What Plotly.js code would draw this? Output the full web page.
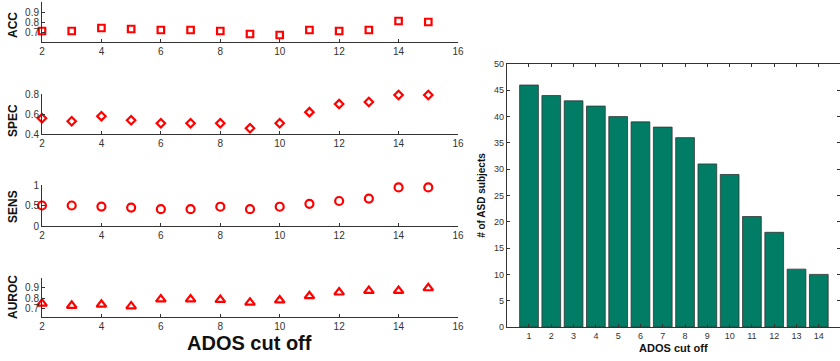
<!DOCTYPE html>
<html>
<head>
<meta charset="utf-8">
<script src="https://cdn.plot.ly/plotly-3.0.1.min.js"></script>
<style>html,body{margin:0;padding:0;background:#fff;}#chart{width:840px;height:361px;}</style>
</head>
<body>
<div id="chart"></div>
<script>
// ADOS cut off values for the four metric panels
const cutoffs = [2, 3, 4, 5, 6, 7, 8, 9, 10, 11, 12, 13, 14, 15];
const acc   = [0.71, 0.71, 0.74, 0.73, 0.72, 0.72, 0.71, 0.68, 0.67, 0.72, 0.71, 0.72, 0.81, 0.80];
const spec  = [0.56, 0.53, 0.58, 0.54, 0.51, 0.51, 0.51, 0.46, 0.51, 0.62, 0.70, 0.72, 0.79, 0.79];
const sens  = [0.50, 0.50, 0.475, 0.45, 0.41, 0.41, 0.47, 0.41, 0.47, 0.54, 0.61, 0.67, 0.94, 0.94];
const auroc = [0.75, 0.73, 0.74, 0.725, 0.79, 0.79, 0.785, 0.76, 0.78, 0.82, 0.855, 0.87, 0.87, 0.895];

// bar chart
const barCats = [1, 2, 3, 4, 5, 6, 7, 8, 9, 10, 11, 12, 13, 14];
const asdCounts = [46, 44, 43, 42, 40, 39, 38, 36, 31, 29, 21, 18, 11, 10];

const leftTicks = [2, 4, 6, 8, 10, 12, 14, 16];

const red = 'rgb(255,0,0)';
const tickFont = {family: 'Liberation Sans, Arial, sans-serif', size: 10, color: '#333'};
const titleFont = {family: 'Liberation Sans, Arial, sans-serif', size: 12, color: '#111'};

function pix(top, bottom) { return [1 - bottom / 361, 1 - top / 361]; }

function mk(x, y, sym, xa, ya, size) {
  return {
    x: x, y: y, xaxis: xa, yaxis: ya, type: 'scatter', mode: 'markers',
    cliponaxis: false, showlegend: false,
    marker: {symbol: sym, size: size, color: red, line: {color: red, width: 2.2}}
  };
}

const data = [
  mk(cutoffs, acc, 'square-open', 'x', 'y', 6.5),
  mk(cutoffs, spec, 'diamond-open', 'x2', 'y2', 6.5),
  mk(cutoffs, sens, 'circle-open', 'x3', 'y3', 8),
  mk(cutoffs, auroc, 'triangle-up-open', 'x4', 'y4', 8.5),
  {
    x: barCats, y: asdCounts, type: 'bar', xaxis: 'x5', yaxis: 'y5', showlegend: false,
    width: 0.84,
    marker: {color: 'rgb(0,125,100)', line: {color: '#333', width: 0.8}}
  }
];

const xDom = [42 / 840, 458 / 840];
function leftX(anchor) {
  return {
    domain: xDom, range: [2, 16], anchor: anchor,
    tickvals: leftTicks, ticks: 'inside', ticklen: 3, tickcolor: '#333',
    showline: true, linecolor: '#333', linewidth: 1, mirror: false,
    showgrid: false, zeroline: false, tickfont: tickFont
  };
}
function leftY(anchor, dom, range, tv, tt) {
  return {
    domain: dom, range: range, anchor: anchor,
    tickvals: tv, ticktext: tt, ticks: 'inside', ticklen: 3, tickcolor: '#333',
    showline: true, linecolor: '#333', linewidth: 1,
    showgrid: false, zeroline: false, tickfont: tickFont
  };
}

const layout = {
  width: 840, height: 361,
  margin: {l: 0, r: 0, t: 0, b: 0},
  paper_bgcolor: '#fff', plot_bgcolor: 'rgba(0,0,0,0)',
  showlegend: false,
  xaxis: leftX('y'),
  yaxis: leftY('x', pix(2, 42), [0.6, 1.0], [0.7, 0.8, 0.9], ['0.7', '0.8', '0.9']),
  xaxis2: leftX('y2'),
  yaxis2: leftY('x2', pix(94, 134.3), [0.4, 0.8], [0.4, 0.6, 0.8], ['0.4', '0.6', '0.8']),
  xaxis3: leftX('y3'),
  yaxis3: leftY('x3', pix(185, 226), [0, 1], [0, 0.5, 1], ['0', '0.5', '1']),
  xaxis4: leftX('y4'),
  yaxis4: leftY('x4', pix(277.7, 316.7), [0.626, 0.993], [0.7, 0.8, 0.9], ['0.7', '0.8', '0.9']),
  xaxis5: {
    domain: [506.7 / 840, 1], range: [0, 14.95], anchor: 'y5',
    tickvals: barCats, ticks: 'inside', ticklen: 3, tickcolor: '#333',
    showline: true, linecolor: '#333', linewidth: 1, mirror: 'ticks',
    showgrid: false, zeroline: false,
    tickfont: {family: 'Liberation Sans, Arial, sans-serif', size: 9, color: '#333'},
    title: {text: 'ADOS cut off', standoff: 4,
            font: {family: 'Liberation Sans, Arial, sans-serif', size: 11, color: '#111', weight: 'bold'}}
  },
  yaxis5: {
    domain: pix(64, 327), range: [0, 50], anchor: 'x5',
    tickvals: [0, 5, 10, 15, 20, 25, 30, 35, 40, 45, 50],
    ticks: 'inside', ticklen: 3, tickcolor: '#333',
    showline: true, linecolor: '#333', linewidth: 1, mirror: 'ticks',
    showgrid: false, zeroline: false,
    tickfont: {family: 'Liberation Sans, Arial, sans-serif', size: 9, color: '#333'},
    title: {text: '# of ASD subjects', standoff: 6,
            font: {family: 'Liberation Sans, Arial, sans-serif', size: 10, color: '#111', weight: 'bold'}}
  },
  annotations: [
    {text: '<b>ACC</b>', x: 13 / 840, y: 1 - 25 / 361},
    {text: '<b>SPEC</b>', x: 13 / 840, y: 1 - 121 / 361},
    {text: '<b>SENS</b>', x: 13 / 840, y: 1 - 207 / 361},
    {text: '<b>AUROC</b>', x: 13 / 840, y: 1 - 297 / 361}
  ].map(a => Object.assign({xref: 'paper', yref: 'paper', showarrow: false, textangle: -90,
    xanchor: 'center', yanchor: 'middle', font: titleFont}, a)).concat([
    {text: '<b>ADOS cut off</b>', xref: 'paper', yref: 'paper', x: 249 / 840, y: 1 - 343 / 361,
     showarrow: false, xanchor: 'center', yanchor: 'middle',
     font: {family: 'Liberation Sans, Arial, sans-serif', size: 20, color: '#111'}}
  ])
};

Plotly.newPlot('chart', data, layout, {displayModeBar: false, staticPlot: true});
</script>
</body>
</html>
